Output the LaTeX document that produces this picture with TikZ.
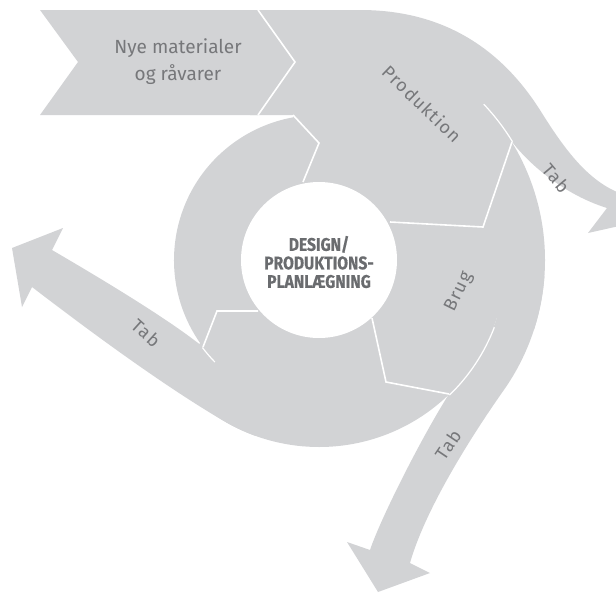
\documentclass[tikz,border=0pt]{standalone}
\usepackage{fontspec}
\setmainfont{Fira Sans}
\usetikzlibrary{calc}
\definecolor{band}{RGB}{210,211,213}
\definecolor{txt}{RGB}{118,119,122}
\definecolor{txtdark}{RGB}{106,108,111}
\begin{document}
\begin{tikzpicture}[x=1pt,y=1pt,
  bandfill/.style={fill=band, draw=none},
  sep/.style={draw=white, line width=1.6pt, line join=miter},
  lbl/.style={text=txt, inner sep=0pt, font=\fontsize{18}{22}\selectfont\addfontfeature{LetterSpace=7}},
  nyelbl/.style={text=txt, align=center, inner sep=0pt, font=\fontsize{19}{27}\selectfont},
  centerlbl/.style={text=txtdark, align=center, inner sep=0pt, xscale=0.86, font=\bfseries\fontsize{18.2}{18.5}\selectfont\addfontfeature{FakeBold=0.6}}
]
\useasboundingbox (0,0) rectangle (616,-592);
\clip (0,0) rectangle (616,-592);
\coordinate (C) at (319,-260);

% incoming arrow
\fill[bandfill] (40,-10) -- (258,-10) -- (295,-62) -- (258,-115) -- (40,-115) -- (78,-62) -- cycle;

% Produktion band and upper loss arrow
\fill[bandfill] (250,-10) -- (360,-10) .. controls (450,-10) and (505,-55) .. (540,-110)
  .. controls (565,-150) and (590,-185) .. (628,-196) -- (645,-165) -- (655,-218) -- (588,-233) -- (607,-208)
  .. controls (565,-195) and (530,-165) .. (513,-143) -- (C) -- (293,-115) -- (250,-115) -- cycle;

% Brug sector
\fill[bandfill] (C) -- ($(C)+(45:226)$) arc[start angle=45, end angle=-18, radius=226] -- cycle;

% lower loss arrow
\fill[bandfill] ($(C)+(-4:226)$) arc[start angle=-4, end angle=-35, radius=226]
  .. controls (470,-438) and (425,-510) .. (410,-563) -- (430,-573) -- (378,-592) -- (347,-542) -- (370,-550)
  .. controls (380,-520) and (420,-440) .. (449,-394)
  arc[start angle=-46, end angle=-4, radius=188] -- cycle;

% bottom sector
\fill[bandfill] (C) -- ($(C)+(0:187)$) arc[start angle=0, end angle=-145, radius=187] -- cycle;

% left loss arrow
\fill[bandfill] ($(C)+(-110:187)$) arc[start angle=-110, end angle=-120, radius=187]
  .. controls (160,-384) and (75,-320) .. (32,-287) -- (22,-307) -- (12,-248) -- (63,-228) -- (52,-250)
  .. controls (100,-278) and (170,-320) .. (203,-347)
  arc[start angle=-143.1, end angle=-110, radius=146] -- cycle;

% Design sector
\fill[bandfill] (C) -- ($(C)+(217:145)$) arc[start angle=217, end angle=90, radius=145] -- cycle;

% separators
\draw[sep] (258,-10) -- (295,-62) -- (258,-115);
\draw[sep] (293,-115) -- (319,-143) -- (303,-182);
\draw[sep] (390,-222) -- (483,-227) -- (512,-142);
\draw[sep] (372,-318) -- (386,-382) -- (449,-394);
\draw[sep] (258,-311) -- (217,-311) -- (203,-347);
\draw[sep, line width=1.2pt] ($(C)+(43.4:226.8)$) arc[start angle=43.4, end angle=31.4, radius=226.8];
\draw[sep, line width=1.2pt] ($(C)+(-21:187.8)$) arc[start angle=-21, end angle=-46, radius=187.8];
\draw[sep, line width=1.2pt] ($(C)+(-135.6:145.8)$) arc[start angle=-135.6, end angle=-143.1, radius=145.8];

% centre
\fill[white] (C) circle (78);
\node[centerlbl] (design) at (319,-262) {DESIGN/\\PRODUKTIONS-\\PLANLÆGNING};

% labels
\node[nyelbl] (nye) at (178,-62) {Nye materialer\\og råvarer};
\node[lbl, rotate=-44] (prod) at (422,-104) {Produktion};
\node[lbl, rotate=-50] (tab1) at (556,-178) {Tab};
\node[lbl, rotate=64] (brug) at (459,-292) {Brug};
\node[lbl, rotate=56] (tab2) at (448,-445) {Tab};
\node[lbl, rotate=-42] (tab3) at (146,-333) {Tab};
\end{tikzpicture}
\end{document}
